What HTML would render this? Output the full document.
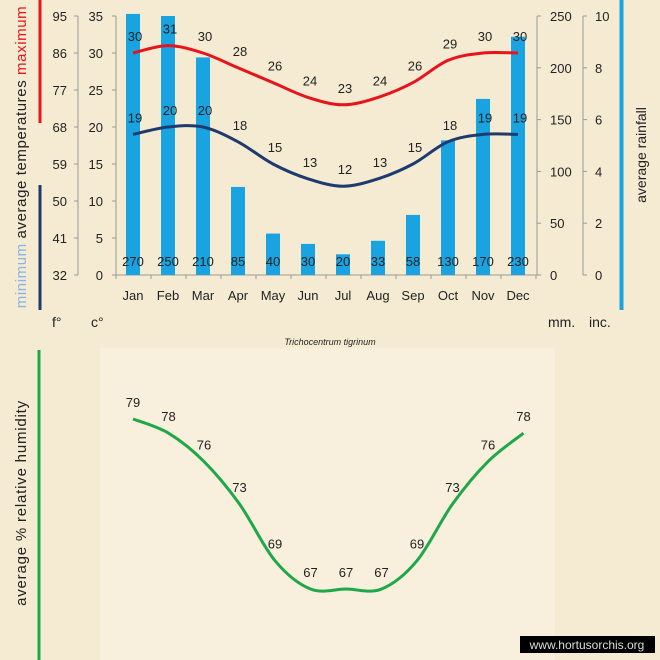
<!DOCTYPE html>
<html><head><meta charset="utf-8">
<style>
html,body{margin:0;padding:0;background:#f4ebd2;}
svg{display:block;font-family:"Liberation Sans",sans-serif;}
</style></head>
<body>
<svg id="s" width="660" height="660" viewBox="0 0 660 660" xmlns="http://www.w3.org/2000/svg">
<rect x="0" y="0" width="660" height="660" fill="#f4ebd2"/>
<rect x="100" y="348" width="455" height="312" fill="#f8f0dc"/>
<rect x="38.5" y="0" width="3" height="123" fill="#e8141b"/>
<rect x="38.5" y="185" width="3" height="125" fill="#1f3a6e"/>
<rect x="619.5" y="0" width="4" height="310" fill="#19a3e0"/>
<rect x="37.5" y="350" width="3" height="310" fill="#1fa84a"/>
<g font-size="14" fill="#222">
<text transform="translate(26,157) rotate(-90)" text-anchor="middle" font-size="15" letter-spacing="0.6"><tspan fill="#8ab4e8">minimum</tspan>  average  temperatures  <tspan fill="#e8141b">maximum</tspan></text>
<text transform="translate(646,155) rotate(-90)" text-anchor="middle">average rainfall</text>
<text transform="translate(26,503) rotate(-90)" text-anchor="middle" font-size="15" letter-spacing="0.8">average %  relative humidity</text>
<text x="52" y="327">f°</text><text x="91" y="327">c°</text>
<text x="548" y="327">mm.</text><text x="589" y="327">inc.</text>
</g>
<text x="330" y="345" font-size="9" font-style="italic" text-anchor="middle" fill="#222">Trichocentrum tigrinum</text>
<g id="g"></g>
<rect x="520" y="636" width="135" height="17" fill="#000"/>
<text x="587" y="649" font-size="12" fill="#ddd" text-anchor="middle">www.hortusorchis.org</text>
</svg>
<script>
(function(){
const g=document.getElementById('g');let h='';
const T0=16,bot=275;
h+=`<line x1="78" y1="${T0}" x2="78" y2="${bot}" stroke="#999"/>`;
h+=`<line x1="116" y1="${T0}" x2="116" y2="${bot}" stroke="#999"/>`;
const F=[32,41,50,59,68,77,86,95];
for(let i=0;i<8;i++){const y=bot-i*(bot-T0)/7;
h+=`<line x1="74" y1="${y}" x2="78" y2="${y}" stroke="#999"/><text x="67" y="${y+5}" font-size="13" text-anchor="end" fill="#222">${F[i]}</text>`;
h+=`<line x1="112" y1="${y}" x2="116" y2="${y}" stroke="#999"/><text x="103" y="${y+5}" font-size="13" text-anchor="end" fill="#222">${i*5}</text>`;}
h+=`<line x1="537" y1="${T0}" x2="537" y2="${bot}" stroke="#999"/>`;
h+=`<line x1="583" y1="${T0}" x2="583" y2="${bot}" stroke="#999"/>`;
for(let i=0;i<6;i++){const y=bot-i*(bot-T0)/5;
h+=`<line x1="537" y1="${y}" x2="541" y2="${y}" stroke="#999"/><text x="550" y="${y+5}" font-size="13" fill="#222">${i*50}</text>`;
h+=`<line x1="583" y1="${y}" x2="587" y2="${y}" stroke="#999"/><text x="595" y="${y+5}" font-size="13" fill="#222">${i*2}</text>`;}
h+=`<line x1="116" y1="${bot}" x2="537" y2="${bot}" stroke="#999"/>`;
const M=['Jan','Feb','Mar','Apr','May','Jun','Jul','Aug','Sep','Oct','Nov','Dec'];
const R=[270,250,210,85,40,30,20,33,58,130,170,230];
const X=i=>133+35*i;
for(let i=0;i<=12;i++){const x=116+35*i;h+=`<line x1="${x}" y1="${bot}" x2="${x}" y2="${bot+4}" stroke="#999"/>`;}
for(let i=0;i<12;i++){const x=X(i);let hgt=Math.min(R[i],252)*(bot-T0)/250;
h+=`<rect x="${x-7}" y="${bot-hgt}" width="14" height="${hgt}" fill="#19a3e0"/>`;
h+=`<text x="${x}" y="300" font-size="13" text-anchor="middle" fill="#222">${M[i]}</text>`;
h+=`<text x="${x}" y="266" font-size="13" text-anchor="middle" fill="#222">${R[i]}</text>`;}
function path(pts){let d=`M${pts[0][0]},${pts[0][1]}`;
for(let i=0;i<pts.length-1;i++){const p0=pts[Math.max(0,i-1)],p1=pts[i],p2=pts[i+1],p3=pts[Math.min(pts.length-1,i+2)];
const c1=[p1[0]+(p2[0]-p0[0])/6,p1[1]+(p2[1]-p0[1])/6],c2=[p2[0]-(p3[0]-p1[0])/6,p2[1]-(p3[1]-p1[1])/6];
d+=` C${c1[0]},${c1[1]} ${c2[0]},${c2[1]} ${p2[0]},${p2[1]}`;}return d;}
const TY=v=>bot-v*(bot-T0)/35;
const MX=[30,31,30,28,26,24,23,24,26,29,30,30],MN=[19,20,20,18,15,13,12,13,15,18,19,19];
h+=`<path d="${path(MX.map((v,i)=>[X(i),TY(v)]))}" fill="none" stroke="#e8141b" stroke-width="3"/>`;
h+=`<path d="${path(MN.map((v,i)=>[X(i),TY(v)]))}" fill="none" stroke="#1f3a6e" stroke-width="3"/>`;
for(let i=0;i<12;i++){
h+=`<text x="${X(i)+2}" y="${TY(MX[i])-12}" font-size="13" text-anchor="middle" fill="#222">${MX[i]}</text>`;
h+=`<text x="${X(i)+2}" y="${TY(MN[i])-12}" font-size="13" text-anchor="middle" fill="#222">${MN[i]}</text>`;}
const H=[79,78,76,73,69,67,67,67,69,73,76,78];
const HX=i=>133+35.5*i,HY=v=>419+(79-v)*14.17;
h+=`<path d="${path(H.map((v,i)=>[HX(i),HY(v)]))}" fill="none" stroke="#1fa84a" stroke-width="3"/>`;
for(let i=0;i<12;i++){h+=`<text x="${HX(i)}" y="${HY(H[i])-12}" font-size="13" text-anchor="middle" fill="#222">${H[i]}</text>`;}
g.innerHTML=h;
})();
</script>
</body></html>
